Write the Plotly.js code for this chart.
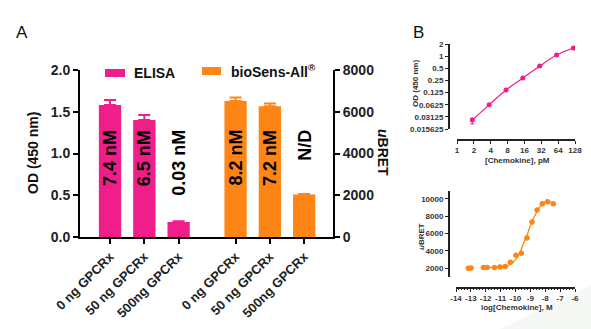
<!DOCTYPE html>
<html>
<head>
<meta charset="utf-8">
<script src="https://cdn.plot.ly/plotly-3.0.1.min.js"></script>
<style>html,body{margin:0;padding:0;background:#fff;}#chart{width:591px;height:329px;}</style>
</head>
<body>
<div id="chart"></div>
<script>
// ---------- Panel A data ----------
const groupLabels = ['0 ng GPCRx', '50 ng GPCRx', '500ng GPCRx'];
const elisaOD = [1.58, 1.40, 0.18];
const elisaErr = [0.06, 0.06, 0.01];
const biosensBRET = [6520, 6260, 2040];
const biosensErr = [160, 140, 25];
const elisaEC50 = ['7.4 nM', '6.5 nM', '0.03 nM'];
const biosensEC50 = ['8.2 nM', '7.2 nM', 'N/D'];

// ---------- Panel B (top) data ----------
const chemokinePM = [1.875, 3.75, 7.5, 15, 30, 60, 120];
const odB = [0.026, 0.062, 0.145, 0.287, 0.57, 1.07, 1.59];
const odBErrUp = [0.003, 0, 0, 0, 0, 0, 0];
const odBErrDown = [0.005, 0, 0, 0, 0, 0, 0];
const odTicks = [2, 1, 0.5, 0.25, 0.125, 0.0625, 0.03125, 0.015625];
const pmTicks = [1, 2, 4, 8, 16, 32, 64, 128];

// ---------- Panel B (bottom) data ----------
const logChem = [-13.17, -12.99, -12.16, -11.9, -11.42, -11.04, -10.69, -10.35, -9.97, -9.61, -9.23, -8.89, -8.55, -8.2, -7.84, -7.46];
const bretB = [2000, 2050, 2100, 2100, 2100, 2150, 2200, 2700, 3500, 3740, 5480, 7330, 8720, 9420, 9650, 9420];
const fitLogChem = [-12.2, -11.5, -11.0, -10.6, -10.3, -10.0, -9.7, -9.5, -9.25, -9.0, -8.75, -8.5, -8.25, -8.0, -7.8, -7.46];
const fitBret = [2100, 2110, 2150, 2250, 2500, 3000, 3800, 4700, 5700, 6900, 7900, 8700, 9300, 9650, 9700, 9450];
const logTicks = [-14, -13, -12, -11, -10, -9, -8, -7, -6];
const bretTicks = [2000, 4000, 6000, 8000, 10000];

const PINK = '#f01e8a';
const ORANGE = '#ff8616';
const W = 591, H = 329;
const P = x => x / W;
const Q = y => 1 - y / H;

const elisaX = groupLabels.map((_, i) => i);
const bioX = groupLabels.map((_, i) => i + 3.66);

const traces = [
  {type: 'bar', name: 'ELISA', x: elisaX, y: elisaOD, width: 0.65,
   marker: {color: PINK, line: {width: 0}},
   error_y: {type: 'data', array: elisaErr, arrayminus: elisaErr.map(() => 0), symmetric: false,
             color: PINK, thickness: 2, width: 6},
   xaxis: 'x', yaxis: 'y', showlegend: false},
  {type: 'bar', name: 'bioSens-All®', x: bioX, y: biosensBRET, width: 0.65,
   marker: {color: ORANGE, line: {width: 0}},
   error_y: {type: 'data', array: biosensErr, arrayminus: biosensErr.map(() => 0), symmetric: false,
             color: ORANGE, thickness: 2, width: 6},
   xaxis: 'x', yaxis: 'y2', showlegend: false},
  {type: 'scatter', mode: 'lines+markers', x: chemokinePM, y: odB,
   line: {color: PINK, width: 1.2, shape: 'spline'},
   marker: {color: PINK, size: 5},
   error_y: {type: 'data', array: odBErrUp, arrayminus: odBErrDown, symmetric: false, color: PINK, thickness: 1, width: 2},
   xaxis: 'x3', yaxis: 'y3', showlegend: false},
  {type: 'scatter', mode: 'lines', x: fitLogChem, y: fitBret,
   line: {color: ORANGE, width: 1.3, shape: 'spline'},
   xaxis: 'x4', yaxis: 'y4', showlegend: false},
  {type: 'scatter', mode: 'markers', x: logChem, y: bretB,
   marker: {color: ORANGE, size: 5.5},
   xaxis: 'x4', yaxis: 'y4', showlegend: false}
];

const FONT = 'Liberation Sans, Arial, sans-serif';
const tickFontA = {family: FONT, size: 14, color: '#222', weight: 700};
const tickFontB = {family: FONT, size: 8, color: '#333', weight: 700};

const annotations = [];
elisaEC50.forEach((t, i) => annotations.push({
  x: elisaX[i], y: 1.305, xref: 'x', yref: 'y', text: t, textangle: -90,
  showarrow: false, xanchor: 'center', yanchor: 'top',
  font: {family: FONT, size: 18, color: '#000', weight: 700}}));
biosensEC50.forEach((t, i) => annotations.push({
  x: bioX[i], y: 1.305, xref: 'x', yref: 'y', text: t, textangle: -90,
  showarrow: false, xanchor: 'center', yanchor: 'top',
  font: {family: FONT, size: 18, color: '#000', weight: 700}}));
annotations.push({x: P(132), y: Q(73), xref: 'paper', yref: 'paper', text: 'ELISA', showarrow: false,
  xanchor: 'left', yanchor: 'middle', font: {family: FONT, size: 14, color: '#111', weight: 700}});
annotations.push({x: P(229), y: Q(71), xref: 'paper', yref: 'paper', text: 'bioSens-All<sup>®</sup>', showarrow: false,
  xanchor: 'left', yanchor: 'middle', font: {family: FONT, size: 14, color: '#111', weight: 700}});
annotations.push({x: P(33), y: Q(153), xref: 'paper', yref: 'paper', text: 'OD (450 nm)', textangle: -90, showarrow: false,
  xanchor: 'center', yanchor: 'middle', font: {family: FONT, size: 14, color: '#111', weight: 700}});
annotations.push({x: P(383), y: Q(152), xref: 'paper', yref: 'paper', text: '<i>u</i>BRET', textangle: 90, showarrow: false,
  xanchor: 'center', yanchor: 'middle', font: {family: FONT, size: 14, color: '#111', weight: 700}});
annotations.push({x: P(22), y: Q(33), xref: 'paper', yref: 'paper', text: 'A', showarrow: false,
  xanchor: 'center', yanchor: 'middle', font: {family: FONT, size: 17, color: '#111'}});
annotations.push({x: P(418), y: Q(32), xref: 'paper', yref: 'paper', text: 'B', showarrow: false,
  xanchor: 'center', yanchor: 'middle', font: {family: FONT, size: 17, color: '#111'}});
annotations.push({x: P(416), y: Q(84), xref: 'paper', yref: 'paper', text: 'OD (450 nm)', textangle: -90, showarrow: false,
  xanchor: 'center', yanchor: 'middle', font: {family: FONT, size: 8, color: '#333', weight: 700}});
annotations.push({x: P(517), y: Q(160), xref: 'paper', yref: 'paper', text: '[Chemokine], pM', showarrow: false,
  xanchor: 'center', yanchor: 'middle', font: {family: FONT, size: 8, color: '#333', weight: 700}});
annotations.push({x: P(421), y: Q(237), xref: 'paper', yref: 'paper', text: '<i>u</i>BRET', textangle: -90, showarrow: false,
  xanchor: 'center', yanchor: 'middle', font: {family: FONT, size: 8, color: '#333', weight: 700}});
annotations.push({x: P(517), y: Q(307), xref: 'paper', yref: 'paper', text: 'log[Chemokine], M', showarrow: false,
  xanchor: 'center', yanchor: 'middle', font: {family: FONT, size: 8, color: '#333', weight: 700}});

const shapes = [
  {type: 'path', xref: 'paper', yref: 'paper', layer: 'below',
   path: `M ${P(500)} ${Q(329)} L ${P(591)} ${Q(285)} L ${P(591)} ${Q(329)} Z`,
   fillcolor: '#f5f8f4', line: {width: 0}},
  {type: 'rect', xref: 'paper', yref: 'paper', x0: P(105), x1: P(125), y0: Q(77), y1: Q(69),
   fillcolor: PINK, line: {width: 0}},
  {type: 'rect', xref: 'paper', yref: 'paper', x0: P(202), x1: P(221), y0: Q(75), y1: Q(67),
   fillcolor: ORANGE, line: {width: 0}}
];

const axA = {showline: true, linewidth: 2, linecolor: '#000', ticks: 'outside', ticklen: 5, tickwidth: 2,
  tickcolor: '#000', showgrid: false, zeroline: false, fixedrange: true, tickfont: tickFontA};
const axB = {showline: true, linewidth: 1.5, linecolor: '#222', ticks: 'outside', ticklen: 3, tickwidth: 1,
  tickcolor: '#222', showgrid: false, zeroline: false, fixedrange: true, tickfont: tickFontB, tickangle: 0};

const layout = {
  width: W, height: 329, margin: {l: 0, r: 0, t: 0, b: 0},
  paper_bgcolor: '#fff', plot_bgcolor: 'rgba(0,0,0,0)',
  showlegend: false, barmode: 'overlay',
  xaxis: Object.assign({}, axA, {domain: [P(80), P(333)], range: [-0.875, 6.5], anchor: 'y',
    tickmode: 'array', tickvals: elisaX.concat(bioX), ticktext: groupLabels.concat(groupLabels),
    tickangle: -45, tickfont: {family: FONT, size: 13, color: '#222', weight: 700}}),
  yaxis: Object.assign({}, axA, {domain: [Q(237), Q(70)], range: [0, 2], dtick: 0.5, tickformat: '.1f', anchor: 'x'}),
  yaxis2: Object.assign({}, axA, {overlaying: 'y', side: 'right', range: [0, 8000], dtick: 2000, anchor: 'x'}),
  xaxis3: Object.assign({}, axB, {type: 'log', domain: [P(457), P(575)], range: [0, Math.log10(128)],
    anchor: 'free', position: Q(139), tickmode: 'array', tickvals: pmTicks, ticktext: pmTicks.map(String)}),
  yaxis3: Object.assign({}, axB, {type: 'log', domain: [Q(129), Q(44)], range: [Math.log10(0.015625), Math.log10(2)],
    anchor: 'free', position: P(448), tickmode: 'array', tickvals: odTicks, ticktext: odTicks.map(String)}),
  xaxis4: Object.assign({}, axB, {domain: [P(456), P(575)], range: [-14, -6],
    tickmode: 'array', tickvals: logTicks, ticktext: logTicks.map(v => '-' + Math.abs(v)),
    anchor: 'free', position: Q(287), minor: {dtick: 0.2, ticks: 'outside', ticklen: 1.5, tickcolor: '#222', showgrid: false}}),
  yaxis4: Object.assign({}, axB, {domain: [Q(277), Q(191)], range: [1000, 10900],
    tickmode: 'array', tickvals: bretTicks, ticktext: bretTicks.map(String),
    anchor: 'free', position: P(448)}),
  annotations: annotations,
  shapes: shapes
};

Plotly.newPlot('chart', traces, layout, {displayModeBar: false, staticPlot: true});
</script>
</body>
</html>
